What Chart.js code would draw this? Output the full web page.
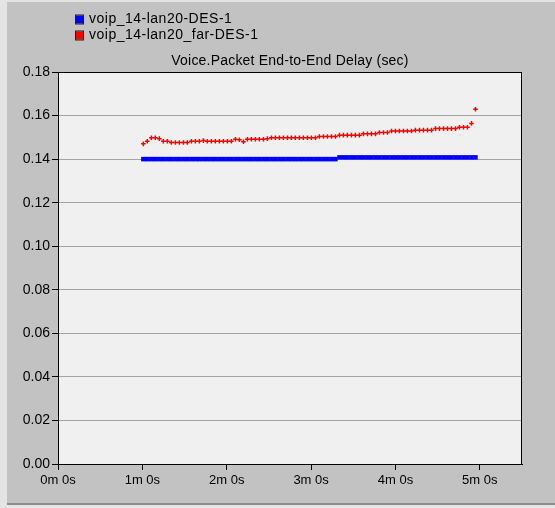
<!DOCTYPE html>
<html>
<head>
<meta charset="utf-8">
<script src="https://cdn.jsdelivr.net/npm/chart.js@4/dist/chart.umd.min.js"></script>
<style>
html,body{margin:0;padding:0;background:#e6e6e6;}
canvas{display:block;}
</style>
</head>
<body>
<canvas id="c" width="555" height="508"></canvas>
<script>
const chartTitle = "Voice.Packet End-to-End Delay (sec)";
const seriesNames = ["voip_14-lan20-DES-1", "voip_14-lan20_far-DES-1"];
const seriesColors = ["#0000ff", "#ff0000"];
const xTickValues = [0, 60, 120, 180, 240, 300];
const xTickLabels = ["0m 0s", "1m 0s", "2m 0s", "3m 0s", "4m 0s", "5m 0s"];
const yTickValues = [0, 0.02, 0.04, 0.06, 0.08, 0.10, 0.12, 0.14, 0.16, 0.18];
const yTickLabels = ["0.00", "0.02", "0.04", "0.06", "0.08", "0.10", "0.12", "0.14", "0.16", "0.18"];

const times = [
  60.7, 63.5, 66.4, 69.2, 72.1, 74.9, 77.8, 80.6, 83.5, 86.3,
  89.2, 92.0, 94.9, 97.7, 100.5, 103.4, 106.2, 109.1, 111.9, 114.8,
  117.6, 120.5, 123.3, 126.2, 129.0, 131.9, 134.7, 137.5, 140.4, 143.2,
  146.1, 148.9, 151.8, 154.6, 157.5, 160.3, 163.2, 166.0, 168.8, 171.7,
  174.5, 177.4, 180.2, 183.1, 185.9, 188.8, 191.6, 194.5, 197.3, 200.2,
  203.0, 205.8, 208.7, 211.5, 214.4, 217.2, 220.1, 222.9, 225.8, 228.6,
  231.5, 234.3, 237.2, 240.0, 242.8, 245.7, 248.5, 251.4, 254.2, 257.1,
  259.9, 262.8, 265.6, 268.5, 271.3, 274.2, 277.0, 279.8, 282.7, 285.5,
  288.4, 291.2, 294.1, 296.9
];

const delayLan20 = [
  0.1400, 0.1400, 0.1400, 0.1400, 0.1400, 0.1400, 0.1400, 0.1400, 0.1400, 0.1400,
  0.1400, 0.1400, 0.1400, 0.1400, 0.1400, 0.1400, 0.1400, 0.1400, 0.1400, 0.1400,
  0.1400, 0.1400, 0.1400, 0.1400, 0.1400, 0.1400, 0.1400, 0.1400, 0.1400, 0.1400,
  0.1400, 0.1400, 0.1400, 0.1400, 0.1400, 0.1400, 0.1400, 0.1400, 0.1400, 0.1400,
  0.1400, 0.1400, 0.1400, 0.1400, 0.1400, 0.1400, 0.1400, 0.1400, 0.1400, 0.1408,
  0.1408, 0.1408, 0.1408, 0.1408, 0.1408, 0.1408, 0.1408, 0.1408, 0.1408, 0.1408,
  0.1408, 0.1408, 0.1408, 0.1408, 0.1408, 0.1408, 0.1408, 0.1408, 0.1408, 0.1408,
  0.1408, 0.1408, 0.1408, 0.1408, 0.1408, 0.1408, 0.1408, 0.1408, 0.1408, 0.1408,
  0.1408, 0.1408, 0.1408, 0.1408
];

const delayLan20Far = [
  0.1470, 0.1482, 0.1498, 0.1498, 0.1494, 0.1482, 0.1482, 0.1476, 0.1476, 0.1476,
  0.1476, 0.1476, 0.1482, 0.1482, 0.1482, 0.1485, 0.1482, 0.1482, 0.1482, 0.1482,
  0.1482, 0.1482, 0.1482, 0.1491, 0.1489, 0.1480, 0.1491, 0.1491, 0.1491, 0.1491,
  0.1491, 0.1494, 0.1498, 0.1498, 0.1498, 0.1498, 0.1498, 0.1498, 0.1498, 0.1498,
  0.1498, 0.1498, 0.1498, 0.1498, 0.1504, 0.1504, 0.1504, 0.1504, 0.1504, 0.1510,
  0.1510, 0.1510, 0.1510, 0.1510, 0.1510, 0.1516, 0.1516, 0.1516, 0.1516, 0.1522,
  0.1522, 0.1522, 0.1529, 0.1529, 0.1529, 0.1529, 0.1529, 0.1529, 0.1533, 0.1533,
  0.1533, 0.1533, 0.1533, 0.1540, 0.1540, 0.1540, 0.1540, 0.1540, 0.1540, 0.1546,
  0.1546, 0.1546, 0.1564, 0.1629
];

const FONT = "'Liberation Sans', Arial, sans-serif";

const frame = {
  id: 'frame',
  beforeDraw(chart) {
    const ctx = chart.ctx, a = chart.chartArea;
    ctx.save();
    ctx.fillStyle = '#e4e4e4';
    ctx.fillRect(0, 0, chart.width, chart.height);
    ctx.fillStyle = '#c2c2c2';
    ctx.fillRect(7, 2, chart.width - 7, 502);
    ctx.fillStyle = '#8c8c8c';
    ctx.fillRect(7, 503, chart.width - 7, 2);
    ctx.fillStyle = '#f0f0f0';
    ctx.fillRect(a.left, a.top, a.right - a.left, a.bottom - a.top);
    ctx.restore();
  },
  afterDatasetsDraw(chart) {
    const ctx = chart.ctx, a = chart.chartArea;
    ctx.save();
    ctx.strokeStyle = '#000';
    ctx.lineWidth = 1;
    ctx.strokeRect(a.left + 0.5, a.top + 0.5, a.right - a.left - 1, a.bottom - a.top);
    ctx.restore();
  },
  afterDraw(chart) {
    const ctx = chart.ctx, a = chart.chartArea;
    ctx.save();
    ctx.fillStyle = '#000';
    ctx.font = '14px ' + FONT;
    ctx.letterSpacing = '0.2px';
    ctx.textAlign = 'center';
    ctx.textBaseline = 'middle';
    ctx.fillText(chartTitle, (a.left + a.right) / 2, 61);
    ctx.font = '14px ' + FONT;
    ctx.letterSpacing = '0.5px';
    ctx.textAlign = 'left';
    seriesNames.forEach((name, i) => {
      const y = 19.5 + i * 16;
      ctx.fillStyle = seriesColors[i];
      ctx.fillRect(76, y - 4, 7, 8);
      ctx.strokeStyle = '#202020';
      ctx.lineWidth = 1;
      ctx.strokeRect(75.5, y - 4.5, 8, 9);
      ctx.fillStyle = '#000';
      ctx.fillText(name, 89, y);
    });
    ctx.restore();
  }
};

new Chart(document.getElementById('c'), {
  type: 'scatter',
  data: {
    datasets: [
      {
        label: seriesNames[0],
        data: times.map((t, i) => ({ x: t, y: delayLan20[i] })),
        backgroundColor: seriesColors[0],
        borderColor: seriesColors[0],
        pointStyle: 'rect',
        pointRadius: 3.2,
        borderWidth: 0,
        showLine: false
      },
      {
        label: seriesNames[1],
        data: times.map((t, i) => ({ x: t, y: delayLan20Far[i] })),
        backgroundColor: seriesColors[1],
        borderColor: seriesColors[1],
        pointStyle: 'cross',
        pointRadius: 2.3,
        borderWidth: 1.5,
        showLine: false
      }
    ]
  },
  options: {
    responsive: false,
    animation: false,
    events: [],
    layout: { padding: { left: 0, top: 72, right: 33, bottom: 0 } },
    plugins: {
      legend: { display: false },
      title: { display: false },
      tooltip: { enabled: false }
    },
    scales: {
      x: {
        type: 'linear',
        min: 0,
        max: 330,
        afterBuildTicks: s => { s.ticks = xTickValues.map(v => ({ value: v })); },
        afterFit: s => { s.height = 44; },
        grid: { display: true, drawOnChartArea: false, tickLength: 6, tickColor: '#000', color: '#000' },
        border: { display: true, color: '#000', width: 1 },
        ticks: {
          color: '#000',
          font: { family: FONT, size: 13 },
          padding: 3,
          maxRotation: 0,
          autoSkip: false,
          callback: v => xTickLabels[xTickValues.indexOf(v)]
        }
      },
      y: {
        type: 'linear',
        min: 0,
        max: 0.18,
        afterBuildTicks: s => { s.ticks = yTickValues.map(v => ({ value: v })); },
        afterFit: s => { s.width = 58; },
        grid: { display: true, drawOnChartArea: true, tickLength: 6, tickColor: '#000', color: '#a4a4a4', lineWidth: 1 },
        border: { display: true, color: '#000', width: 1 },
        ticks: {
          color: '#000',
          font: { family: FONT, size: 14 },
          padding: 2,
          autoSkip: false,
          callback: (v, i) => yTickLabels[yTickValues.indexOf(v)]
        }
      }
    }
  },
  plugins: [frame]
});
</script>
</body>
</html>
